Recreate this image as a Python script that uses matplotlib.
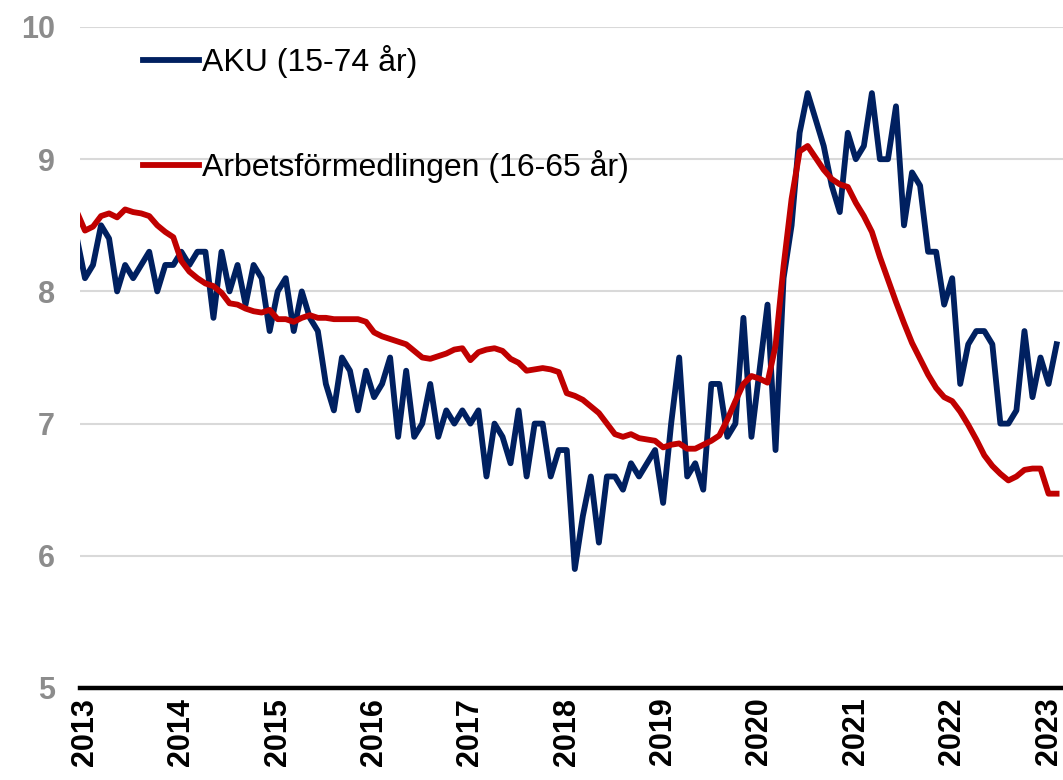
import numpy as np
import matplotlib
matplotlib.use("Agg")
import matplotlib.pyplot as plt

plt.rcParams['font.family'] = ['Liberation Sans', 'DejaVu Sans']

# monthly values, first point = Dec 2012 (index -1), last = Jan 2023 (index 121 ~ Feb 2023)
aku = [8.4,
       8.1, 8.2, 8.5, 8.4, 8.0, 8.2, 8.1, 8.2, 8.3, 8.0, 8.2, 8.2,
       8.3, 8.2, 8.3, 8.3, 7.8, 8.3, 8.0, 8.2, 7.9, 8.2, 8.1, 7.7,
       8.0, 8.1, 7.7, 8.0, 7.8, 7.7, 7.3, 7.1, 7.5, 7.4, 7.1, 7.4,
       7.2, 7.3, 7.5, 6.9, 7.4, 6.9, 7.0, 7.3, 6.9, 7.1, 7.0, 7.1,
       7.0, 7.1, 6.6, 7.0, 6.9, 6.7, 7.1, 6.6, 7.0, 7.0, 6.6, 6.8,
       6.8, 5.9, 6.3, 6.6, 6.1, 6.6, 6.6, 6.5, 6.7, 6.6, 6.7, 6.8,
       6.4, 7.0, 7.5, 6.6, 6.7, 6.5, 7.3, 7.3, 6.9, 7.0, 7.8, 6.9,
       7.4, 7.9, 6.8, 8.1, 8.5, 9.2, 9.5, 9.3, 9.1, 8.8, 8.6, 9.2,
       9.0, 9.1, 9.5, 9.0, 9.0, 9.4, 8.5, 8.9, 8.8, 8.3, 8.3, 7.9,
       8.1, 7.3, 7.6, 7.7, 7.7, 7.6, 7.0, 7.0, 7.1, 7.7, 7.2, 7.5,
       7.3, 7.6]

af = [8.60,
      8.46, 8.49, 8.57, 8.59, 8.56, 8.62, 8.60, 8.59, 8.57, 8.50, 8.45, 8.41,
      8.23, 8.15, 8.10, 8.06, 8.04, 7.99, 7.91, 7.90, 7.87, 7.85, 7.84, 7.86,
      7.79, 7.79, 7.77, 7.80, 7.82, 7.80, 7.80, 7.79, 7.79, 7.79, 7.79, 7.77,
      7.69, 7.66, 7.64, 7.62, 7.60, 7.55, 7.50, 7.49, 7.51, 7.53, 7.56, 7.57,
      7.48, 7.54, 7.56, 7.57, 7.55, 7.49, 7.46, 7.40, 7.41, 7.42, 7.41, 7.39,
      7.23, 7.21, 7.18, 7.13, 7.08, 7.00, 6.92, 6.90, 6.92, 6.89, 6.88, 6.87,
      6.82, 6.84, 6.85, 6.81, 6.81, 6.84, 6.87, 6.91, 7.03, 7.17, 7.30, 7.36,
      7.34, 7.31, 7.59, 8.19, 8.70, 9.06, 9.10, 9.01, 8.92, 8.85, 8.81, 8.79,
      8.67, 8.57, 8.45, 8.26, 8.09, 7.92, 7.76, 7.61, 7.49, 7.37, 7.27, 7.20,
      7.17, 7.09, 6.99, 6.88, 6.76, 6.68, 6.62, 6.57, 6.60, 6.65, 6.66, 6.66,
      6.47, 6.47]

years = [str(y) for y in range(2013, 2024)]
labels = ['AKU (15-74 år)', 'Arbetsförmedlingen (16-65 år)']

months = np.arange(-1, len(aku) - 1)

fig = plt.figure(figsize=(10.63, 7.8), dpi=100)
ax = fig.add_axes([80 / 1063, 92 / 780, 983 / 1063, 661 / 780])

ax.plot(months, aku, color='#002060', lw=4.2, label=labels[0], solid_joinstyle='round')
ax.plot(months, af, color='#C00000', lw=4.2, label=labels[1], solid_joinstyle='round')

ax.set_ylim(5, 10)
ax.set_xlim(-0.62, 121.8)
ax.set_yticks([5, 6, 7, 8, 9, 10])
ax.set_xticks(np.arange(0, 121, 12))
ax.set_xticklabels(years, rotation=90, fontsize=22, fontweight='bold', color='black')
ax.tick_params(axis='y', length=0, pad=18, labelsize=22, labelcolor='#8c8c8c')
ax.tick_params(axis='x', length=0, pad=7)
for t in ax.get_yticklabels():
    t.set_fontweight('bold')

ax.grid(axis='y', color='#d9d9d9', lw=1.5)
ax.set_axisbelow(True)
for s in ['top', 'right', 'left']:
    ax.spines[s].set_visible(False)
ax.spines['bottom'].set_linewidth(3.2)
ax.spines['bottom'].set_color('black')
ax.spines['bottom'].set_zorder(5)

ax.legend(loc='upper left', bbox_to_anchor=(143 / 1063, 0.942), bbox_transform=fig.transFigure,
          frameon=False, fontsize=23, handlelength=1.75, handletextpad=0.1,
          labelspacing=2.25, borderpad=0, borderaxespad=0)

fig.savefig('out.png', dpi=100)
